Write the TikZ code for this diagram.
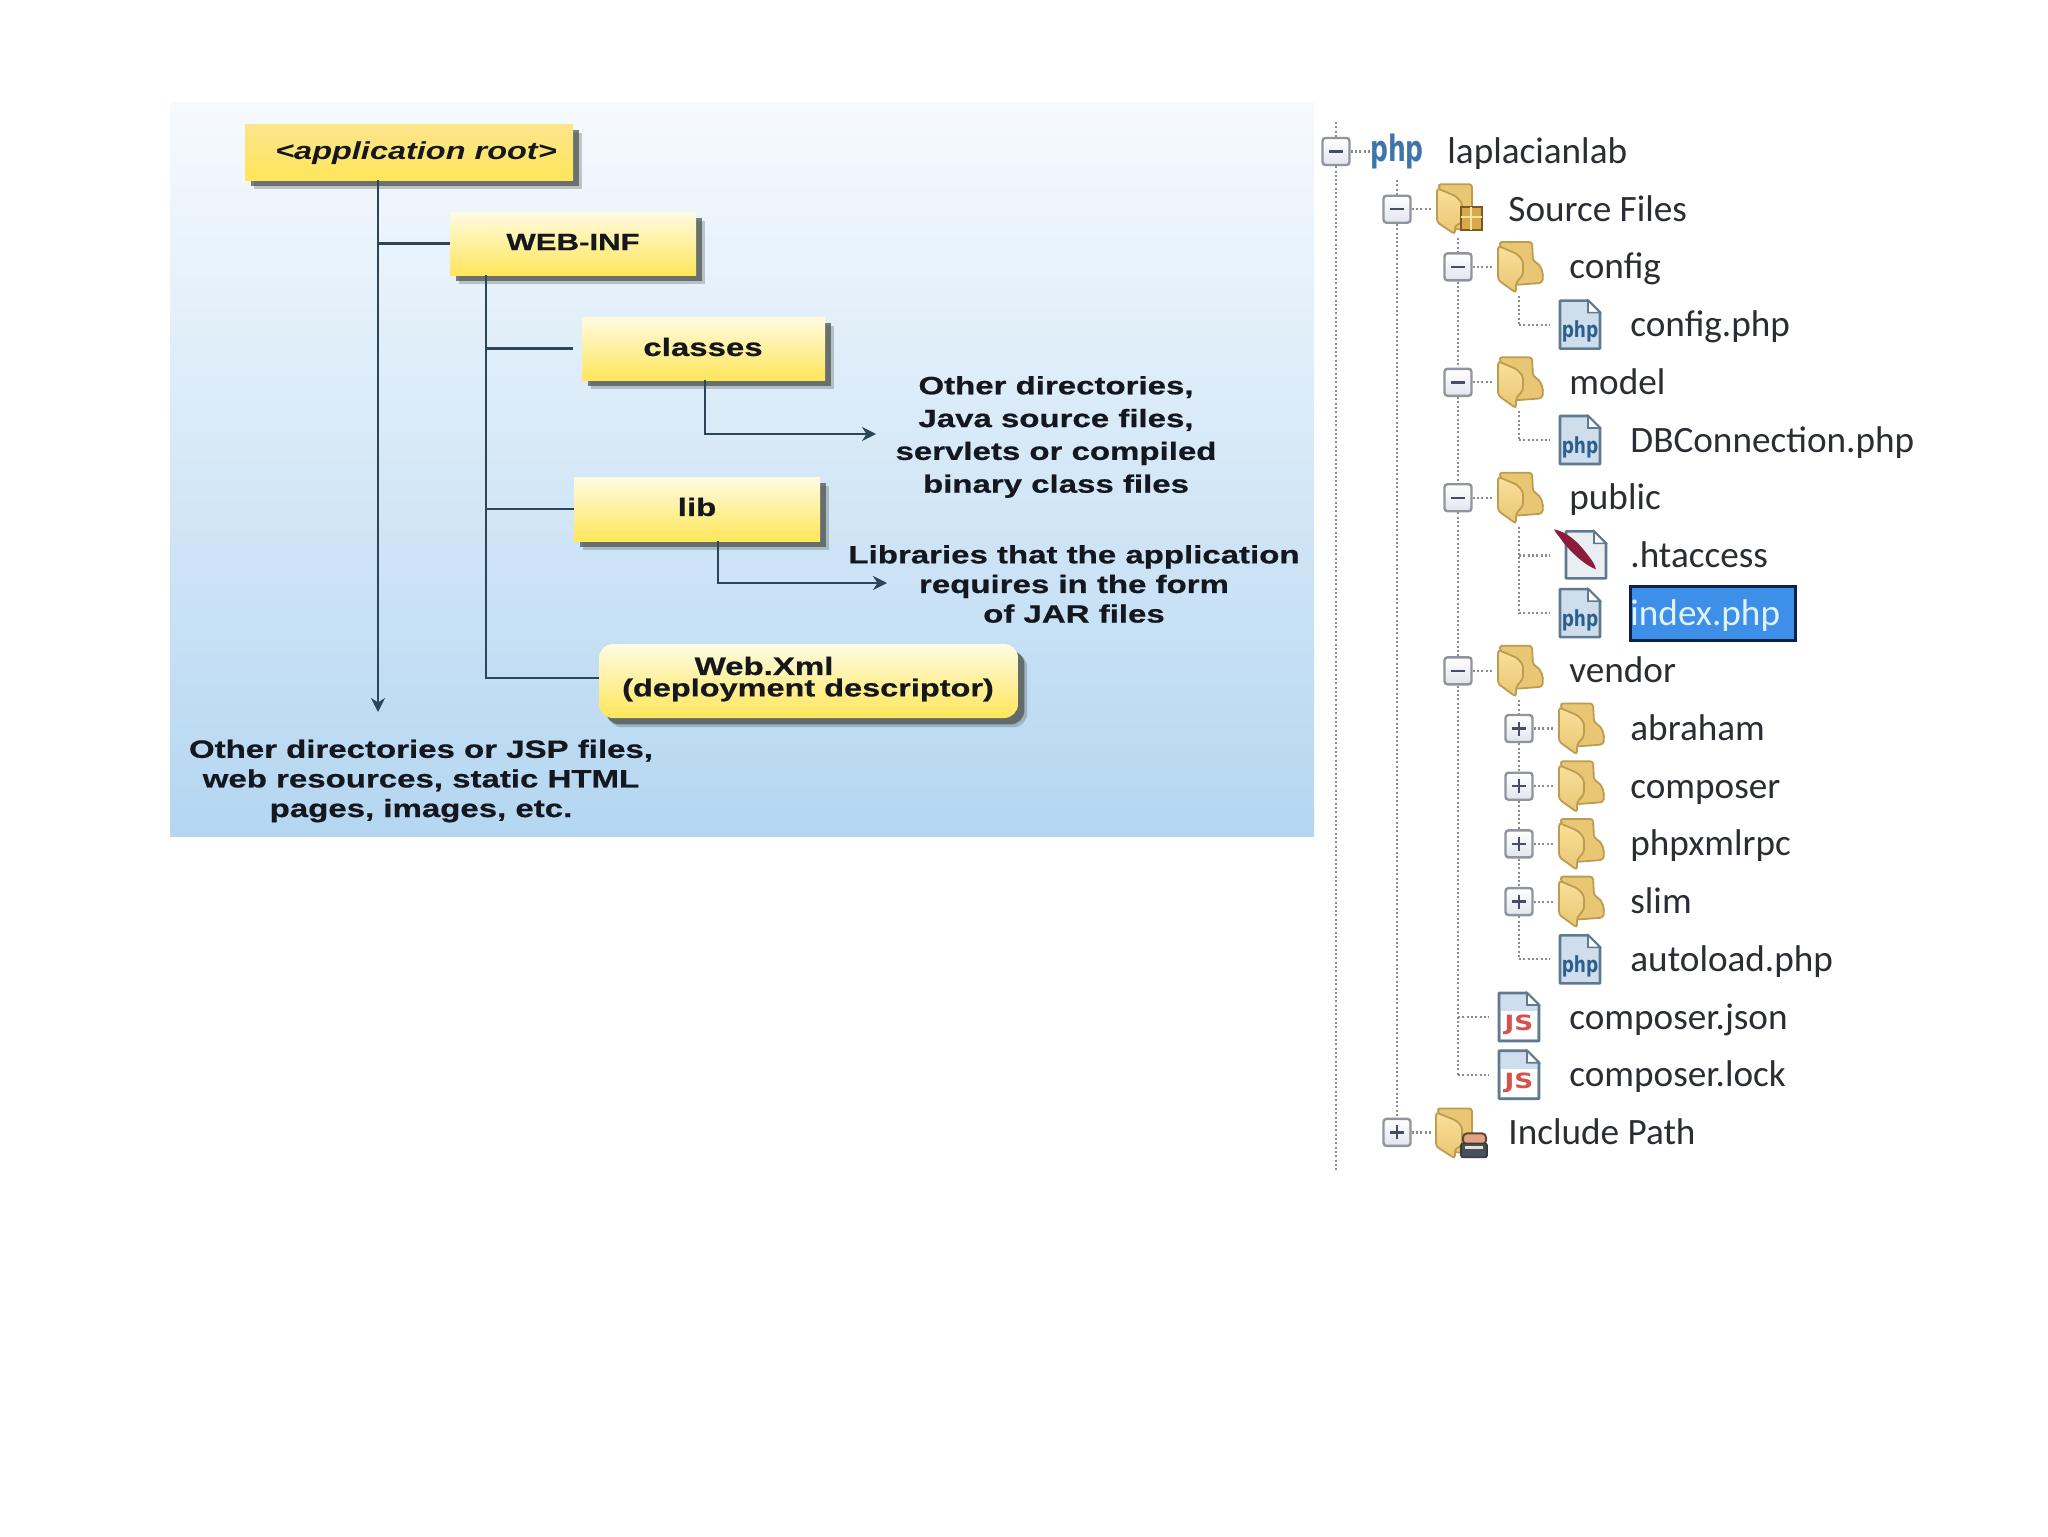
\documentclass[tikz,border=0pt]{standalone}
\usepackage{fontspec}
\setmainfont{Liberation Sans}
\newfontfamily\labfont{Liberation Sans}[FakeStretch=1.32,BoldFeatures={FakeBold=0.7}]
\newfontfamily\treefont{Carlito}
\newfontfamily\icofont{DejaVu Sans}
\usetikzlibrary{arrows.meta,shadows,calc}
\definecolor{linecol}{HTML}{2C4658}
\definecolor{textcol}{HTML}{14181E}
\definecolor{shadowcol}{HTML}{4E5650}
\definecolor{folderback}{HTML}{E9C673}
\definecolor{folderfront}{HTML}{FAE09A}
\definecolor{folderedge}{HTML}{BB9C50}
\definecolor{docedge}{HTML}{5F7A90}
\definecolor{docfill}{HTML}{CFDEEC}
\definecolor{treedot}{HTML}{8C8C8C}
\definecolor{treetext}{HTML}{2A2D33}
\definecolor{boxedge}{HTML}{90949C}
\definecolor{signcol}{HTML}{454E68}
\definecolor{FILEBLUE}{HTML}{2A5F8E}
\definecolor{JSRED}{HTML}{D8504C}
\definecolor{QUILL}{HTML}{8C1C3C}
\definecolor{LOGOBLUE}{HTML}{3F74AC}
\definecolor{ypale}{HTML}{FFFBE2}
\definecolor{ydeep}{HTML}{FFE65A}
\definecolor{yroot}{HTML}{FBE58C}
\definecolor{exlow}{HTML}{E3E5EE}
\definecolor{quilldoc}{HTML}{E9EEF3}
\definecolor{gridfill}{HTML}{D8A948}
\definecolor{gridedge}{HTML}{7A5A20}
\definecolor{gridline}{HTML}{F5E2A8}
\definecolor{prtop}{HTML}{E6A088}
\definecolor{predge}{HTML}{5A4A30}
\definecolor{prbody}{HTML}{46505A}
\definecolor{predge2}{HTML}{3A3A3A}
\definecolor{prslot}{HTML}{E8E0C8}
\definecolor{bgtop}{HTML}{F6FAFD}
\definecolor{bgmid}{HTML}{D2E7F7}
\definecolor{bgbot}{HTML}{B4D6F1}
\definecolor{selfill}{HTML}{3D8FE8}
\definecolor{seledge}{HTML}{0C2148}
\definecolor{seltext}{HTML}{DFF3FF}
\tikzset{
  x=0.5pt, y=-0.5pt,
  ybox/.style={inner sep=0pt, top color=#1, bottom color=ydeep,
    drop shadow={shadow xshift=4.6pt, shadow yshift=-4.6pt, fill=shadowcol, opacity=.3},
    drop shadow={shadow xshift=3.2pt, shadow yshift=-3.2pt, fill=shadowcol, opacity=.75}},
  ybox/.default=ypale,
  conn/.style={draw=linecol, line width=1.25pt},
  arrowconn/.style={conn, -{Stealth[length=7pt,width=7pt]}},
  lab/.style={font=\labfont\bfseries\fontsize{12.5}{14.8}\selectfont, text=textcol, align=center, inner sep=0pt},
  expander/.style={draw=boxedge, line width=1.2pt, rounded corners=1.5pt, top color=white, bottom color=exlow,
    minimum size=13.5pt, inner sep=0pt},
  minusbox/.style={expander, path picture={
    \draw[signcol, line width=1.2pt] ([xshift=-3.5pt]path picture bounding box.center) -- ([xshift=3.5pt]path picture bounding box.center);}},
  plusbox/.style={expander, path picture={
    \draw[signcol, line width=1.2pt] ([xshift=-3.5pt]path picture bounding box.center) -- ([xshift=3.5pt]path picture bounding box.center);
    \draw[signcol, line width=1.2pt] ([yshift=-3.5pt]path picture bounding box.center) -- ([yshift=3.5pt]path picture bounding box.center);}},
  dots/.style={draw=treedot, line width=1.1pt, dash pattern=on 1pt off 1.15pt},
  rowtext/.style={font=\treefont\fontsize{18.6}{20}\selectfont, text=treetext, inner sep=0pt, anchor=base west},
  pics/folderico/.style={code={
    \path[fill=folderback, draw=folderedge, line width=.9pt, rounded corners=1.5pt]
      (-20,-25) -- (13,-25) -- (14,-6) .. controls (22,-2) and (25,6) .. (23,16) -- (-4,18) -- cycle;
    \path[top color=folderfront, bottom color=folderback, draw=folderedge, line width=.9pt, rounded corners=1.5pt]
      (-21,-21) -- (-2,-13) -- (4,-6) -- (4,8) -- (-3,16) -- (-3,26) -- (-21,13) -- cycle;
  }},
  pics/phpico/.style={code={
    \path[fill=docfill, draw=docedge, line width=1.3pt, line join=round]
      (-20,-24) -- (8,-24) -- (20,-12) -- (20,24) -- (-20,24) -- cycle;
    \path[fill=white, draw=docedge, line width=.8pt] (8,-24) -- (8,-12) -- (20,-12) -- cycle;
    \node[inner sep=0pt, text=FILEBLUE, font=\icofont\bfseries\fontsize{8.5}{9}\selectfont] (lab) at (0,7) {\scalebox{1}[1.3]{php}};
  }},
  pics/jsico/.style={code={
    \path[fill=docfill, draw=docedge, line width=1.3pt, line join=round]
      (-20,-24) -- (8,-24) -- (20,-12) -- (20,24) -- (-20,24) -- cycle;
    \path[fill=white, draw=docedge, line width=.8pt] (8,-24) -- (8,-12) -- (20,-12) -- cycle;
    \fill[white] (-18,-6) rectangle (18,22);
    \node[inner sep=0pt, text=JSRED, font=\icofont\bfseries\fontsize{10.5}{11}\selectfont] (lab) at (0,8) {\scalebox{1.25}[1]{JS}};
  }},
  pics/quillico/.style={code={
    \path[fill=quilldoc, draw=docedge, line width=1.3pt, line join=round]
      (-14,-24) -- (14,-24) -- (26,-12) -- (26,23) -- (-14,23) -- cycle;
    \path[fill=white, draw=docedge, line width=.8pt] (14,-24) -- (14,-12) -- (26,-12) -- cycle;
    \path[fill=QUILL] (-26,-26) .. controls (-14,-24) and (-2,-14) .. (8,0) .. controls (13,6) and (15,10) .. (16,14)
      .. controls (6,10) and (-6,0) .. (-16,-12) .. controls (-20,-18) and (-24,-22) .. cycle;
  }},
  pics/phplogo/.style={code={
    \node[inner sep=0pt, text=LOGOBLUE, font=\icofont\bfseries\fontsize{12.5}{13}\selectfont] (lab) at (0,0) {\scalebox{1}[1.45]{php}};
  }},
  pics/srcfolder/.style={code={
    \path[fill=folderback, draw=folderedge, line width=.9pt, rounded corners=1.5pt]
      (-20,-25) -- (14,-25) -- (14,20) -- (-4,20) -- cycle;
    \path[top color=folderfront, bottom color=folderback, draw=folderedge, line width=.9pt, rounded corners=1.5pt]
      (-21,-21) -- (-2,-13) -- (4,-6) -- (4,14) -- (-3,16) -- (-3,25) -- (-21,13) -- cycle;
    \path[fill=gridfill, draw=gridedge, line width=1pt] (3,-2) rectangle (24,21);
    \draw[gridline, line width=1pt] (3,8) -- (24,8) (13,-2) -- (13,21);
  }},
  pics/incfolder/.style={code={
    \path[fill=folderback, draw=folderedge, line width=.9pt, rounded corners=1.5pt]
      (-21,-24) -- (14,-24) -- (14,20) -- (-4,20) -- cycle;
    \path[top color=folderfront, bottom color=folderback, draw=folderedge, line width=.9pt, rounded corners=1.5pt]
      (-22,-20) -- (-2,-12) -- (4,-6) -- (4,14) -- (-3,16) -- (-3,26) -- (-22,14) -- cycle;
    \path[fill=prtop, draw=predge, line width=1pt, rounded corners=2pt] (5,1) rectangle (28,12);
    \path[fill=prbody, draw=predge2, line width=.8pt, rounded corners=1pt] (3,11) rectangle (29,25);
    \fill[prslot] (7,14) rectangle (25,17);
  }},
}
% expandable row: id, expander x, y, box style, icon pic, text
\newcommand{\exprow}[6]{%
  \node[#4] (e#1) at (#2,#3) {};
  \coordinate (s#1) at ($(e#1)+(34,0)$);
  \draw[dots] (e#1) -- (s#1);
  \pic (i#1) at ($(e#1)+(61,0)$) {#5};
  \node[rowtext] (t#1) at ($(e#1)+(111,12)$) {#6};
}
% leaf row: id, elbow x, y, icon pic, text
\newcommand{\leafrow}[5]{%
  \coordinate (e#1) at (#2,#3);
  \coordinate (s#1) at ($(e#1)+(31,0)$);
  \draw[dots] (e#1) -- (s#1);
  \pic (i#1) at ($(e#1)+(61,0)$) {#4};
  \node[rowtext] (t#1) at ($(e#1)+(111,12)$) {#5};
}
\begin{document}
\begin{tikzpicture}
\useasboundingbox (0,0) rectangle (2048,1536);
\fill[white] (0,0) rectangle (2048,1536);
\shade[top color=bgtop, middle color=bgmid, bottom color=bgbot] (170,103) rectangle (1314,836);

% boxes
\node[ybox=yroot, minimum width=164pt, minimum height=28pt] (root) at (409,152) {};
\node[ybox, minimum width=123pt, minimum height=31.5pt] (webinf) at (573,243.5) {};
\node[ybox, minimum width=121.5pt, minimum height=31.5pt] (classes) at (703.5,348.5) {};
\node[ybox, minimum width=123pt, minimum height=32pt] (lib) at (697,509) {};
\node[ybox, rounded corners=7pt, minimum width=209.5pt, minimum height=37pt] (webxml) at (808.5,681) {};

% box texts
\node[lab, font=\labfont\bfseries\itshape\fontsize{12.3}{14}\selectfont] (troot) at (416,153) {<application root>};
\node[lab, font=\labfont\bfseries\fontsize{11.8}{14}\selectfont] (twebinf) at (573,242) {WEB-INF};
\node[lab] (tclasses) at (703,347) {classes};
\node[lab] (tlib) at (697,507) {lib};
\node[lab] (txml) at (764,666) {Web.Xml};
\node[lab, font=\labfont\bfseries\fontsize{12.3}{14}\selectfont] (tdesc) at (808,690) {(deployment descriptor)};

% free ends
\coordinate (rootend) at (378,712);
\coordinate (webend) at (486,678);
\coordinate (clsdown) at (705,434);
\coordinate (clsend) at (876,434);
\coordinate (libdown) at (718,583);
\coordinate (libend) at (887,583);

% connectors
\draw[arrowconn] (root.south -| rootend) -- (rootend);
\draw[conn] (webinf.west) -- (webinf.west -| rootend);
\draw[conn] (webinf.south -| webend) -- (webend) -- (webend -| webxml.west);
\draw[conn] ([xshift=-4.5pt]classes.west) -- (classes.west -| webend);
\draw[conn] (lib.west) -- (lib.west -| webend);
\draw[arrowconn] (classes.south -| clsdown) -- (clsdown) -- (clsend);
\draw[arrowconn] (lib.south -| libdown) -- (libdown) -- (libend);

% annotations
\node[lab, font=\labfont\bfseries\fontsize{12.5}{16.4}\selectfont] (noteclasses) at (1056,437)
  {Other directories,\\Java source files,\\servlets or compiled\\binary class files};
\node[lab] (notelib) at (1074,584)
  {Libraries that the application\\requires in the form\\of JAR files};
\node[lab] (noteroot) at (421,781)
  {Other directories or JSP files,\\web resources, static HTML\\pages, images, etc.};

% tree
\coordinate (L0top) at (1336,122);
\coordinate (L0bot) at (1336,1170);
\coordinate (L1top) at (1397,180);
\coordinate (L2top) at (1458,238);
\coordinate (A3top) at (1519,296);
\coordinate (B3top) at (1519,411);
\coordinate (C3top) at (1519,527);
\coordinate (D3top) at (1519,700);

\path[fill=selfill, draw=seledge, line width=1.5pt] (1630,586) rectangle (1795,640);

\exprow{0}{1336}{151.5}{minusbox}{phplogo}{laplacianlab}
\exprow{1}{1397}{209.2}{minusbox}{srcfolder}{Source Files}
\exprow{2}{1458}{266.9}{minusbox}{folderico}{config}
\leafrow{3}{1519}{324.6}{phpico}{config.php}
\exprow{4}{1458}{382.3}{minusbox}{folderico}{model}
\leafrow{5}{1519}{440}{phpico}{DBConnection.php}
\exprow{6}{1458}{497.7}{minusbox}{folderico}{public}
\leafrow{7}{1519}{555.4}{quillico}{.htaccess}
\leafrow{8}{1519}{613.1}{phpico}{\textcolor{seltext}{index.php}}
\exprow{9}{1458}{670.8}{minusbox}{folderico}{vendor}
\exprow{10}{1519}{728.5}{plusbox}{folderico}{abraham}
\exprow{11}{1519}{786.2}{plusbox}{folderico}{composer}
\exprow{12}{1519}{843.9}{plusbox}{folderico}{phpxmlrpc}
\exprow{13}{1519}{901.6}{plusbox}{folderico}{slim}
\leafrow{14}{1519}{959.3}{phpico}{autoload.php}
\leafrow{15}{1458}{1017}{jsico}{composer.json}
\leafrow{16}{1458}{1074.7}{jsico}{composer.lock}
\exprow{17}{1397}{1132.4}{plusbox}{incfolder}{Include Path}

\draw[dots] (L0top) -- (e0) -- (L0bot);
\draw[dots] (L1top) -- (e1) -- (e17);
\draw[dots] (L2top) -- (e2) -- (e4) -- (e6) -- (e9) -- (e15) -- (e16);
\draw[dots] (A3top) -- (e3);
\draw[dots] (B3top) -- (e5);
\draw[dots] (C3top) -- (e7) -- (e8);
\draw[dots] (D3top) -- (e10) -- (e11) -- (e12) -- (e13) -- (e14);
\end{tikzpicture}
\end{document}
